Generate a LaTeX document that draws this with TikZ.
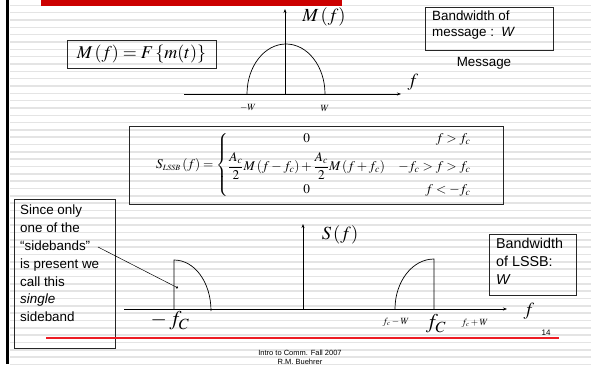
\documentclass[tikz,border=0pt]{standalone}
\usepackage{amsmath}
\usepackage{mathptmx}
\usepackage{fontspec}
\setmainfont{Liberation Sans}
\usetikzlibrary{arrows.meta}
\definecolor{stripe}{RGB}{228,228,228}
\definecolor{hdrred}{RGB}{204,0,0}
\definecolor{linered}{RGB}{237,28,36}
\tikzset{
  px/.style={x=1pt,y=-1pt},
  frame/.style={draw=black!85,line width=0.8pt,inner sep=0pt},
  axis/.style={line width=0.6pt,-{Stealth[length=4pt,width=3pt]}},
  curve/.style={line width=0.7pt},
  big/.style={font=\fontsize{18.5}{21}\selectfont},
  tiny/.style={font=\fontsize{9.5}{10}\selectfont},
  boxtxt/.style={align=left,inner sep=0pt},
}
\begin{document}
\begin{tikzpicture}[px]
\useasboundingbox (0,0) rectangle (591,364);
% background stripes
\foreach \i in {0,...,49} {
  \draw[stripe,line width=1.5pt] (10,5.3+7.33*\i) -- (591,5.3+7.33*\i);
}
% left bar and header bar
\fill[black] (5.5,0) rectangle (8.5,364);
\fill[hdrred] (41,0) rectangle (342,6);

% ---- top: message spectrum ----
\node[frame,minimum width=149pt,minimum height=28pt,font=\fontsize{18}{20}\selectfont] (eqM) at (141.5,54)
  {$M\left(f\right)=F\left\{m(t)\right\}$};
\coordinate (o1) at (285,94);
\coordinate (xe1) at (401,94);
\coordinate (xs1) at (184,94);
\coordinate (ye1) at (285,9);
\draw[axis] (xs1) -- (xe1);
\draw[axis] (o1) -- (ye1);
\draw[curve] (247,94) .. controls (247,66.4) and (264.5,44) .. (286,44)
  .. controls (307.5,44) and (325,66.4) .. (325,94);
\node[big] (Mf) at (324,17) {$M\left(f\right)$};
\node[big] (f1) at (413,82) {$f$};
\node[tiny] (mW) at (248,108) {$-W$};
\node[tiny] (pW) at (325,108) {$W$};
\node[frame,minimum width=128pt,minimum height=43pt] (bwm) at (489,28.5) {};
\node[boxtxt,anchor=north west,font=\fontsize{13.4}{16}\selectfont] (bwmt) at (432,11)
  {Bandwidth of\\message :\ \ \textit{W}};
\node[font=\fontsize{13.4}{16}\selectfont] (msg) at (484,63) {Message};

% ---- formula ----
\node[frame,minimum width=374pt,minimum height=78pt] (fbox) at (316,165) {};
\node[font=\fontsize{13.3}{15}\selectfont] (form) at (314,165)
  {$S_{\scriptscriptstyle LSSB}\left(f\right)=\left\{\begin{array}{@{}c@{\quad}r@{}}
   0 & f>f_c\\[6pt]
   \dfrac{A_c}{2}M\left(f-f_c\right)+\dfrac{A_c}{2}M\left(f+f_c\right) & -f_c>f>f_c\\[8pt]
   0 & f<-f_c
   \end{array}\right.$};

% ---- bottom-left note ----
\node[frame,minimum width=101pt,minimum height=149pt] (note) at (64.5,273.5) {};
\node[boxtxt,anchor=north west,font=\fontsize{13.4}{17.8}\selectfont] (notet) at (20,205)
  {Since only\\one of the\\``sidebands''\\is present we\\call this\\\textit{single}\\sideband};
\coordinate (cs) at (98,247);
\coordinate (ce) at (178,288);
\draw[line width=0.5pt,-{Circle[length=2.2pt]}] (cs) -- (ce);

% ---- bottom: LSSB spectrum ----
\coordinate (xs2) at (124,309);
\coordinate (xe2) at (507,309);
\coordinate (o2) at (303,309);
\coordinate (ye2) at (303,224);
\draw[axis] (xs2) -- (xe2);
\draw[axis] (o2) -- (ye2);
\draw[curve] (174,309) -- (174,260) .. controls (194.4,260) and (211,282) .. (211,311);
\draw[curve] (395,309) .. controls (395,281.4) and (412.5,259) .. (434,259) -- (434,309);
\node[big] (Sf) at (340,235) {$S\left(f\right)$};
\node[big] (f2) at (529,311) {$f$};
\node[font=\fontsize{21}{23}\selectfont] (mfc) at (170,321) {$-\,f_C$};
\node[font=\fontsize{21}{23}\selectfont] (fc) at (436,324) {$f_C$};
\node[tiny] (fcmW) at (396,322) {$f_c-W$};
\node[tiny] (fcpW) at (475,323) {$f_c+W$};
\node[frame,minimum width=87pt,minimum height=61pt] (bwl) at (532.5,264.5) {};
\node[boxtxt,anchor=north west,font=\fontsize{14.3}{18}\selectfont] (bwlt) at (496,238)
  {Bandwidth\\of LSSB:\\\textit{W}};

% ---- footer ----
\node[font=\fontsize{8}{9}\selectfont] (pg) at (546,333) {14};
\coordinate (rl) at (46,337.5);
\coordinate (rr) at (559,337.5);
\draw[color=linered,line width=2pt] (rl) -- (rr);
\node[font=\fontsize{7.5}{9}\selectfont,align=center,anchor=north] (foot) at (300,347)
  {Intro to Comm. Fall 2007\\R.M. Buehrer};
\end{tikzpicture}
\end{document}
